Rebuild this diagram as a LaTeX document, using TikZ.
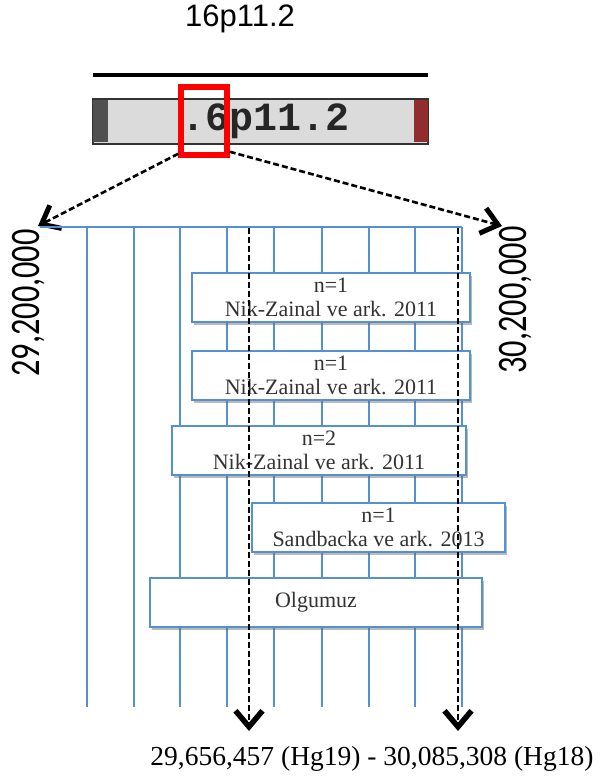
\documentclass[tikz,border=0pt]{standalone}
\usepackage{fontspec}
\setmainfont{Liberation Serif}
\newfontfamily\helv{Liberation Sans}
\newfontfamily\calib{Carlito}
\newfontfamily\cour{Liberation Mono}
\usetikzlibrary{arrows.meta, positioning, shadows}

\definecolor{lineblue}{RGB}{84,144,210}
\definecolor{cendark}{RGB}{80,80,80}
\definecolor{telred}{RGB}{145,45,45}

\begin{document}
\begin{tikzpicture}[
    x=1pt, y=-1pt,
    grid/.style={draw=lineblue, line width=2.6pt},
    refbox/.style={draw=lineblue, line width=2pt, fill=white,
                   minimum height=49pt, inner sep=0pt, align=center,
                   text=black!80, font=\fontsize{22}{24}\selectfont,
                   drop shadow={shadow xshift=2pt, shadow yshift=-3pt,
                                opacity=0.45, fill=black!60}},
    zoomarrow/.style={dash pattern=on 6pt off 3pt, line width=2.6pt,
                      -{Straight Barb[length=16pt, width=26pt, line width=5pt]}},
    bparrow/.style={dash pattern=on 6pt off 3pt, line width=2.8pt,
                    -{Straight Barb[length=16pt, width=27pt, line width=5.5pt]}},
    poslabel/.style={rotate=90, inner sep=0pt,
                     font=\calib\fontsize{42}{42}\selectfont}
  ]
  \useasboundingbox (0,0) rectangle (600,778);

  % Chromosome band
  \node[font=\helv\fontsize{31}{31}\selectfont] (title) at (240,19) {16p11.2};
  \draw[line width=3.5pt] (93,75) -- (428,75);
  \node[draw=black!80, fill=black!14, line width=2.5pt, minimum width=335pt,
        minimum height=45pt, inner sep=0pt] (band) at (260.5,121.5) {};
  \node[fill=cendark, minimum width=15pt, minimum height=42pt, inner sep=0pt,
        anchor=west] (cen) at ([xshift=1pt]band.west) {};
  \node[fill=telred, minimum width=14pt, minimum height=42pt, inner sep=0pt,
        anchor=east] (tel) at ([xshift=-1pt]band.east) {};
  \node[font=\cour\bfseries\fontsize{40}{40}\selectfont, text=black!85] (bandtxt)
    at (266,121) {.6p11.2};
  \node[draw=red, line width=5.5pt, minimum width=46pt, minimum height=68pt,
        inner sep=0pt] (zoombox) at (204,121) {};

  % Region ends
  \coordinate (posL) at (38,226);
  \coordinate (posR) at (502,226);
  \draw[zoomarrow] ([yshift=4pt]zoombox.south west) -- (posL);
  \draw[zoomarrow] ([yshift=6pt]zoombox.south east) -- (posR);
  \node[poslabel] (startlbl) at (29,303) {\scalebox{0.77}[1]{29,200,000}};
  \node[poslabel] (endlbl) at (516,300) {\scalebox{0.77}[1]{30,200,000}};

  % Grid
  \draw[grid] (40,227) -- (462,227);
  \foreach \x in {87,134,180,227,274,322,369,415,462} {
    \draw[grid] (\x,227) -- (\x,707);
  }

  % Reported deletions
  \node[refbox, minimum width=278pt] (nz1) at (331,297.5)
    {n=1\\Nik-Zainal ve ark. 2011};
  \node[refbox, minimum width=278pt] (nz2) at (331,375)
    {n=1\\Nik-Zainal ve ark. 2011};
  \node[refbox, minimum width=294pt] (nz3) at (319,450.5)
    {n=2\\Nik-Zainal ve ark. 2011};
  \node[refbox, minimum width=253pt] (sb) at (378.5,527)
    {n=1\\Sandbacka ve ark. 2013};
  \node[refbox, minimum width=332pt] (case) at (316,602.5) {Olgumuz};

  % Breakpoints
  \coordinate (bpA) at (249,228);
  \coordinate (bpAend) at (249,731);
  \coordinate (bpB) at (458,228);
  \coordinate (bpBend) at (458,731);
  \draw[bparrow] (bpA) -- (bpAend);
  \draw[bparrow] (bpB) -- (bpBend);
  \node[font=\fontsize{27.5}{28}\selectfont, anchor=base, inner sep=0pt]
    (coords) at (372,765) {29,656,457 (Hg19) - 30,085,308 (Hg18)};
\end{tikzpicture}
\end{document}
